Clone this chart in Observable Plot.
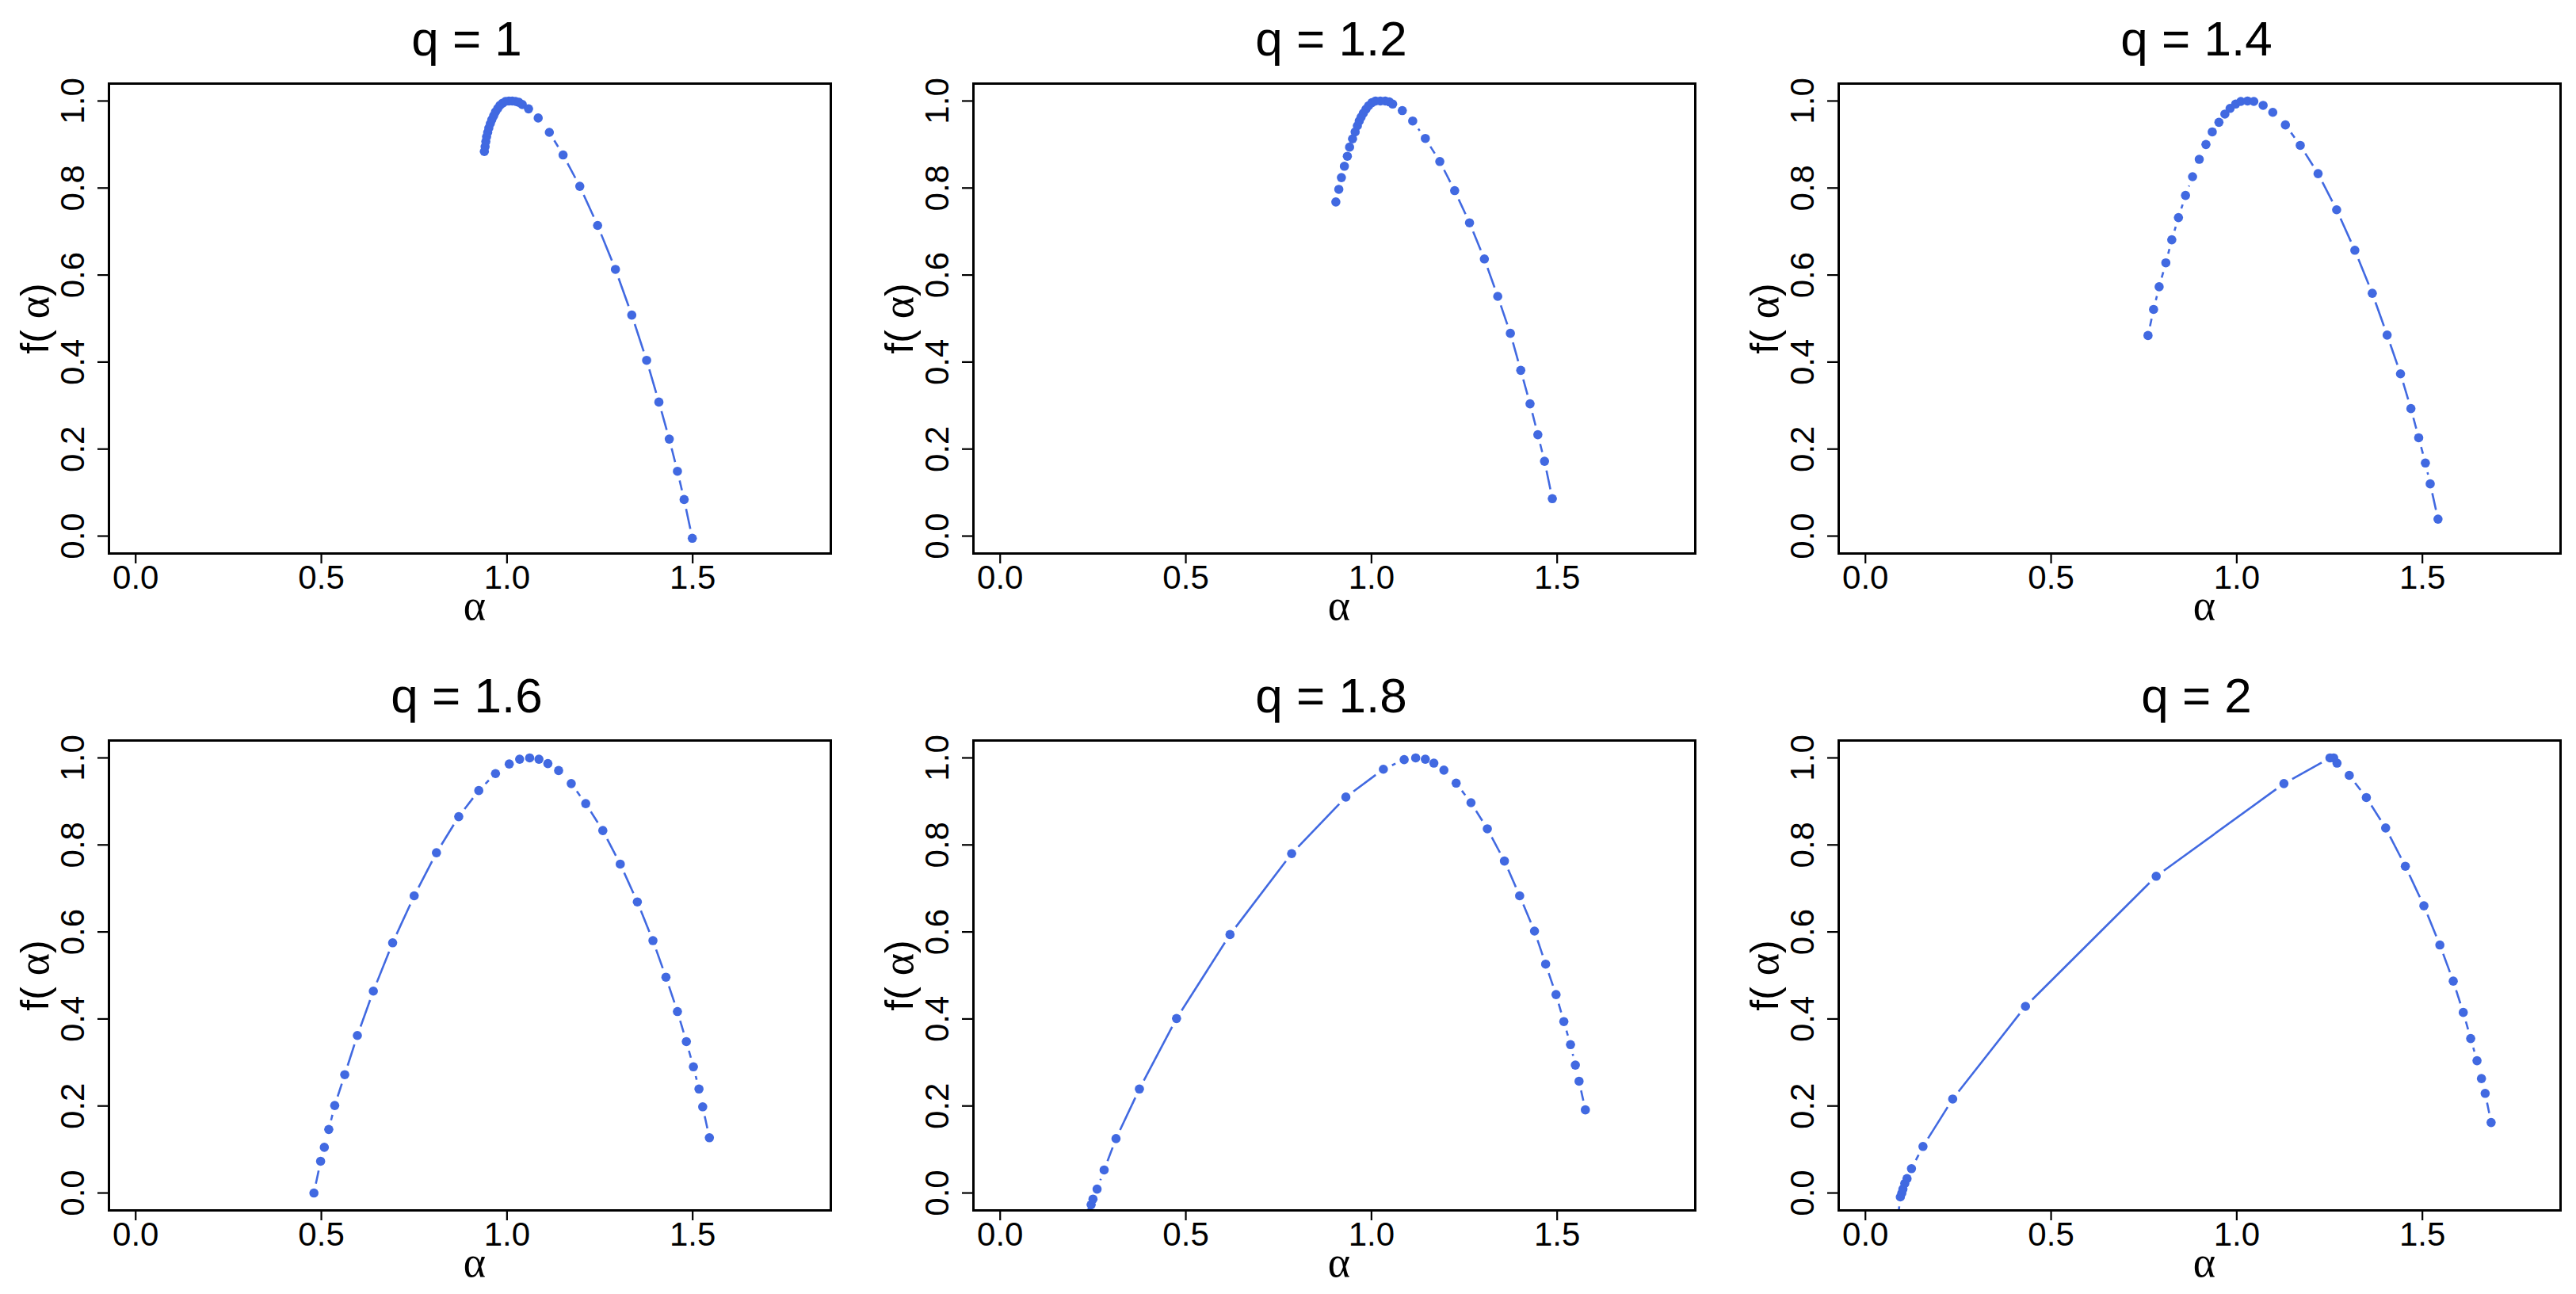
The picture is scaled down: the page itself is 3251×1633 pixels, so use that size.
<!DOCTYPE html>
<html><head><meta charset="utf-8">
<script src="https://cdn.jsdelivr.net/npm/d3@7"></script>
<script src="https://cdn.jsdelivr.net/npm/@observablehq/plot@0.6"></script>
<style>
html,body{margin:0;padding:0;background:#fff;}
#root{position:relative;width:3251px;height:1633px;overflow:hidden;background:#fff;}
.panel{position:absolute;}
</style></head><body><div id="root"></div>
<script>
// ---- data ----
const panelTitles = ["q = 1", "q = 1.2", "q = 1.4", "q = 1.6", "q = 1.8", "q = 2"];
const xTicks = [0, 0.5, 1.0, 1.5];
const yTicks = [0, 0.2, 0.4, 0.6, 0.8, 1.0];
const xLabel = "α";
const yLabel = "f( α)";

const alpha_q1 = [0.939,0.941,0.943,0.945,0.948,0.951,0.955,0.959,0.964,0.969,0.975,0.981,0.988,0.996,1.005,1.014,1.023,1.032,1.041,1.058,1.084,1.114,1.151,1.196,1.244,1.292,1.336,1.376,1.409,1.437,1.459,1.477,1.499];
const f_q1     = [0.884,0.895,0.907,0.918,0.928,0.938,0.948,0.957,0.966,0.975,0.983,0.990,0.995,0.999,1.000,1.000,0.999,0.997,0.992,0.982,0.961,0.928,0.876,0.804,0.714,0.613,0.508,0.404,0.308,0.223,0.149,0.084,-0.005];

const alpha_q12 = [0.904,0.912,0.919,0.927,0.935,0.941,0.949,0.956,0.962,0.967,0.972,0.978,0.985,0.992,1.001,1.011,1.024,1.037,1.048,1.057,1.083,1.111,1.145,1.184,1.224,1.264,1.304,1.340,1.374,1.402,1.427,1.448,1.466,1.487];
const f_q12     = [0.768,0.797,0.824,0.850,0.873,0.894,0.913,0.929,0.943,0.954,0.963,0.972,0.981,0.989,0.996,1.000,1.000,1.000,0.998,0.993,0.978,0.954,0.914,0.861,0.794,0.720,0.637,0.551,0.466,0.381,0.304,0.233,0.172,0.086];

const alpha_q14 = [0.761,0.776,0.791,0.809,0.825,0.843,0.862,0.881,0.899,0.917,0.934,0.952,0.968,0.982,0.997,1.011,1.029,1.046,1.071,1.097,1.131,1.171,1.219,1.269,1.318,1.365,1.405,1.441,1.469,1.490,1.508,1.521,1.542];
const f_q14     = [0.461,0.521,0.573,0.628,0.681,0.732,0.783,0.826,0.866,0.900,0.929,0.951,0.970,0.983,0.993,0.999,1.000,0.999,0.990,0.974,0.945,0.898,0.833,0.750,0.657,0.558,0.462,0.373,0.293,0.226,0.168,0.120,0.039];

const alpha_q16 = [0.480,0.498,0.508,0.520,0.536,0.563,0.597,0.640,0.692,0.750,0.810,0.870,0.924,0.969,1.006,1.034,1.061,1.086,1.110,1.139,1.173,1.212,1.258,1.305,1.351,1.393,1.428,1.459,1.483,1.502,1.517,1.527,1.545];
const f_q16     = [0.000,0.073,0.105,0.146,0.201,0.272,0.362,0.464,0.575,0.683,0.782,0.865,0.925,0.964,0.986,0.997,1.000,0.997,0.987,0.971,0.941,0.895,0.833,0.756,0.669,0.580,0.496,0.417,0.348,0.290,0.239,0.198,0.127];

const alpha_q18 = [0.241,0.245,0.250,0.261,0.280,0.312,0.375,0.475,0.619,0.785,0.931,1.032,1.088,1.119,1.145,1.168,1.195,1.228,1.268,1.312,1.358,1.399,1.439,1.469,1.497,1.518,1.536,1.549,1.559,1.576];
const f_q18     = [-0.045,-0.027,-0.014,0.009,0.053,0.125,0.239,0.401,0.594,0.780,0.910,0.974,0.996,1.000,0.997,0.988,0.972,0.942,0.897,0.837,0.763,0.683,0.602,0.526,0.456,0.394,0.341,0.294,0.257,0.191];

const alpha_q2 = [0.086,0.094,0.098,0.101,0.106,0.112,0.124,0.155,0.235,0.431,0.783,1.127,1.251,1.261,1.270,1.303,1.349,1.401,1.454,1.504,1.547,1.583,1.610,1.630,1.647,1.659,1.669,1.685];
const f_q2     = [-0.070,-0.009,0.000,0.009,0.022,0.033,0.056,0.107,0.216,0.429,0.728,0.941,1.000,1.000,0.988,0.960,0.909,0.839,0.751,0.660,0.570,0.487,0.415,0.355,0.304,0.263,0.229,0.162];

const seriesAlpha = [alpha_q1, alpha_q12, alpha_q14, alpha_q16, alpha_q18, alpha_q2];
const seriesF = [f_q1, f_q12, f_q14, f_q16, f_q18, f_q2];

// ---- layout / style ----
const COLOR = "#4169E1";
const frameLefts = [136.6, 1227.5, 2319.6];
const frameTops = [105, 934];
const FW = 911, FH = 593;
const ML = 140, MT = 110, MR = 20, MB = 110;
const xDomain = [-0.072, 1.872], yDomain = [-0.04, 1.04];
const GAP = 12; // R type="b" gap around points (px)
const SERIF = "'Liberation Serif', 'DejaVu Serif', serif";

function gappedSegments(a, f) {
  const kx = FW / (xDomain[1] - xDomain[0]);
  const ky = FH / (yDomain[1] - yDomain[0]);
  const out = [];
  for (let i = 0; i < a.length - 1; i++) {
    const dxp = (a[i+1] - a[i]) * kx, dyp = (f[i+1] - f[i]) * ky;
    const d = Math.hypot(dxp, dyp);
    if (d <= 2 * GAP) continue;
    const t = GAP / d;
    out.push({
      x1: a[i] + (a[i+1] - a[i]) * t, y1: f[i] + (f[i+1] - f[i]) * t,
      x2: a[i+1] - (a[i+1] - a[i]) * t, y2: f[i+1] - (f[i+1] - f[i]) * t
    });
  }
  return out;
}

const root = document.getElementById("root");
const fmt = d3.format(".1f");

for (let k = 0; k < 6; k++) {
  const col = k % 3, row = Math.floor(k / 3);
  const pts = seriesAlpha[k].map((a, i) => ({a, f: seriesF[k][i]}));
  const segs = gappedSegments(seriesAlpha[k], seriesF[k]);
  const chart = Plot.plot({
    width: ML + FW + MR,
    height: MT + FH + MB,
    marginLeft: ML, marginRight: MR, marginTop: MT, marginBottom: MB,
    style: {fontFamily: "'Liberation Sans', Arial, Helvetica, sans-serif", background: "transparent", overflow: "visible", color: "black"},
    x: {domain: xDomain, axis: null},
    y: {domain: yDomain, axis: null},
    marks: [
      Plot.link(segs, {x1: "x1", y1: "y1", x2: "x2", y2: "y2", stroke: COLOR, strokeWidth: 2.6, clip: true}),
      Plot.dot(pts, {x: "a", y: "f", r: 5.8, fill: COLOR, stroke: "none", clip: true}),
      Plot.frame({stroke: "black", strokeWidth: 3}),
      Plot.axisX({ticks: xTicks, tickSize: 13, tickPadding: 2, strokeWidth: 2.2, tickFormat: fmt, fontSize: 42, label: null}),
      Plot.axisY({ticks: yTicks, tickSize: 14, strokeWidth: 2.2, tickFormat: () => "", fill: "none", label: null}),
      Plot.text(yTicks, {y: d => d, text: d => fmt(d), frameAnchor: "left", dx: -45, rotate: -90, fontSize: 42, textAnchor: "middle", lineAnchor: "middle", fill: "black"}),
      Plot.text([yLabel], {text: d => d, frameAnchor: "left", dx: -93, rotate: -90, fontSize: 50, textAnchor: "middle", lineAnchor: "middle", fill: "black"}),
      Plot.text([xLabel], {text: d => d, frameAnchor: "bottom", dy: 66, dx: 6, fontSize: 54, lineAnchor: "middle", fill: "black", fontFamily: SERIF}),
      Plot.text([panelTitles[k]], {text: d => d, frameAnchor: "top", dy: -55, dx: -4, fontSize: 62, lineAnchor: "middle", fill: "black"})
    ]
  });
  // use serif Greek alpha inside the y label (as R plotmath does)
  chart.querySelectorAll("text").forEach(t => {
    if (t.children.length === 0 && t.textContent.includes("α") && t.textContent.length > 1) {
      const s = t.textContent;
      t.textContent = "";
      for (const part of s.split(/(α)/)) {
        if (!part) continue;
        const ts = document.createElementNS("http://www.w3.org/2000/svg", "tspan");
        ts.textContent = part;
        if (part === "α") { ts.setAttribute("font-family", SERIF); ts.setAttribute("font-size", "54"); }
        t.appendChild(ts);
      }
    }
  });
  const div = document.createElement("div");
  div.className = "panel";
  div.style.left = (frameLefts[col] - ML) + "px";
  div.style.top = (frameTops[row] - MT) + "px";
  div.appendChild(chart);
  root.appendChild(div);
}
</script>
</body></html>
